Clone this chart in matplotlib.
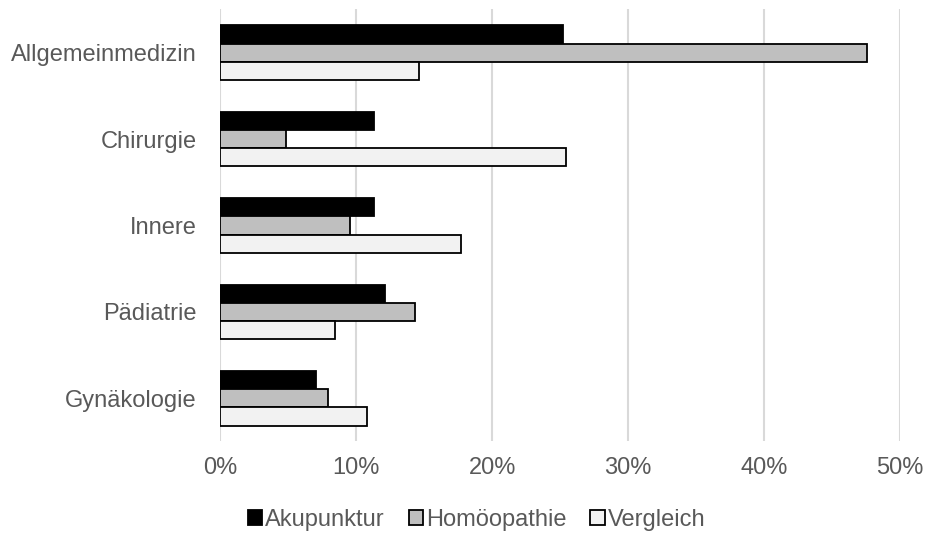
import numpy as np
import matplotlib.pyplot as plt
from matplotlib.ticker import PercentFormatter

plt.rcParams['font.family'] = ['Liberation Sans', 'DejaVu Sans']

# Daten
categories = ["Allgemeinmedizin", "Chirurgie", "Innere", "Pädiatrie", "Gynäkologie"]
series_names = ["Akupunktur", "Homöopathie", "Vergleich"]
akupunktur = [25.2, 11.3, 11.3, 12.1, 7.0]
homoeopathie = [47.6, 4.8, 9.5, 14.3, 7.9]
vergleich = [14.6, 25.4, 17.7, 8.4, 10.8]

colors = ["#000000", "#BFBFBF", "#F2F2F2"]
text_col = "#595959"

fig = plt.figure(figsize=(9.28, 5.33), dpi=100)
ax = fig.add_axes([0.2376, 0.1717, 0.7322, 0.8105])

y = np.arange(len(categories))
h = 0.211
values = [akupunktur, homoeopathie, vergleich]
for i, (name, vals, c) in enumerate(zip(series_names, values, colors)):
    ax.barh(y + (i - 1) * h, vals, height=h, color=c, edgecolor="black",
            linewidth=1.3, label=name, zorder=3)

ax.set_ylim(len(categories) - 0.5, -0.5)
ax.set_yticks(y)
ax.set_yticklabels(categories)
ax.set_xlim(0, 50)
ax.set_xticks(np.arange(0, 51, 10))
ax.xaxis.set_major_formatter(PercentFormatter(decimals=0))

ax.grid(axis="x", color="#D9D9D9", linewidth=1.5, zorder=0)
for s in ax.spines.values():
    s.set_visible(False)
ax.tick_params(axis="both", length=0, colors=text_col, labelsize=17)
ax.tick_params(axis="y", pad=17)
ax.tick_params(axis="x", pad=11)

leg = ax.legend(loc="center", bbox_to_anchor=(0.377, -0.182), ncol=3,
                frameon=False, fontsize=17, handlelength=0.6, handleheight=0.6,
                handletextpad=0.15, columnspacing=1.0, borderpad=0.2)
for t in leg.get_texts():
    t.set_color(text_col)

plt.savefig("out.png", dpi=100)
